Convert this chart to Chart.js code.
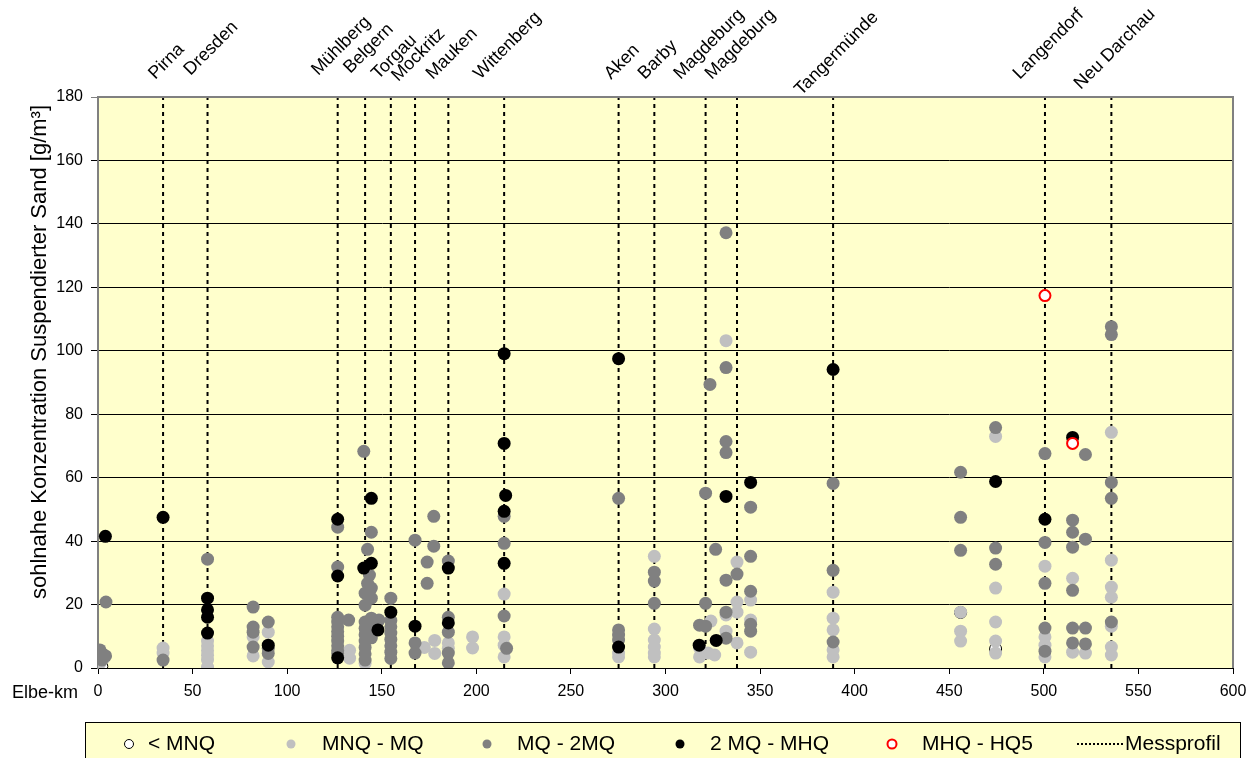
<!DOCTYPE html>
<html>
<head>
<meta charset="utf-8">
<script src="https://cdn.jsdelivr.net/npm/chart.js@4.4.0/dist/chart.umd.min.js"></script>
<style>
  html, body { margin: 0; padding: 0; background: #fff; }
  canvas { display: block; }
</style>
</head>
<body>
<canvas id="sandChart" width="1260" height="758" style="width:1260px;height:758px"></canvas>
<script>
// Measuring profiles (Elbe-km)
const stations = ['Pirna', 'Dresden', 'Mühlberg', 'Belgern', 'Torgau', 'Mockritz', 'Mauken', 'Wittenberg',
                  'Aken', 'Barby', 'Magdeburg', 'Magdeburg', 'Tangermünde', 'Langendorf', 'Neu Darchau'];
const stationKm = [34.4, 57.9, 126.7, 141.2, 154.8, 167.6, 185.2, 214.7, 275.2, 294.1, 321.2, 337.8, 388.6, 500.6, 535.7];
// extra drop of some rotated labels (px)
const labelDrop = [0, -4, -4, -6, 0, 2, 0, 0, 0, 0, 0, 0, 16, 0, 10];

const xTicks = [0, 50, 100, 150, 200, 250, 300, 350, 400, 450, 500, 550, 600];
const yTicks = [0, 20, 40, 60, 80, 100, 120, 140, 160, 180];

// [Elbe-km, concentration g/m³] per discharge class
const belowMNQ = [[2, 0.5], [456, 17.5], [474.5, 6]];

const mnqToMq = [
  [1, 1.5], [3, 3],
  [34.4, 6.3], [34.4, 4.7],
  [57.9, 8.5], [57.9, 7], [57.9, 5.5], [57.9, 4], [57.9, 2.5], [57.9, 0.3],
  [82, 9.8], [82, 3.8], [90, 11.3], [90, 1.9],
  [133, 5.6], [133, 3.1], [144.5, 11], [141.2, 1.5],
  [172.5, 6.5], [178, 8.7], [178, 4.6], [185.2, 7.9], [185.2, 6.2],
  [198, 9.8], [198, 6.3],
  [214.7, 23.3], [214.7, 9.8], [214.7, 7.2], [214.7, 3.5],
  [275.2, 4.7], [275.2, 3.5],
  [294.1, 35.2], [294.1, 12.3], [294.1, 8.8], [294.1, 6.6], [294.1, 4.7], [294.1, 3.5],
  [318, 6.3], [318, 3.5], [324, 14.8], [322.5, 4.7], [326, 4.1],
  [332, 103.2], [332, 16.7], [332, 11.6],
  [337.8, 33.4], [337.8, 20.8], [337.8, 17.6], [337.8, 7.9],
  [345, 21.4], [345, 15.1], [345, 5],
  [388.6, 23.9], [388.6, 15.7], [388.6, 12], [388.6, 5.7], [388.6, 3.5],
  [456, 17.6], [456, 11.6], [456, 8.5],
  [474.5, 73], [474.5, 25.2], [474.5, 14.5], [474.5, 8.5], [474.5, 4.7],
  [500.6, 32.1], [500.6, 9.8], [500.6, 7.2], [500.6, 3.5],
  [515.2, 28.3], [515.2, 5], [522, 4.7],
  [535.7, 74.3], [535.7, 34], [535.7, 25.5], [535.7, 22.3], [535.7, 13.2], [535.7, 6.6], [535.7, 4.1]
];

const mqTo2mq = [
  [1, 5.7], [2.5, 4.4], [4, 3.8], [2, 2.5], [4.2, 20.8],
  [34.4, 2.5], [57.9, 34.3],
  [82, 19.2], [82, 12.9], [82, 11.3], [82, 6.6],
  [90, 14.5], [90, 6.2], [90, 4.6],
  [126.7, 44.4], [126.7, 31.8], [126.7, 16], [126.7, 14.5], [126.7, 13], [126.7, 11.5],
  [126.7, 10], [126.7, 8.5], [126.7, 7], [126.7, 5.5], [126.7, 4.5],
  [132.5, 15.1],
  [140.5, 68.3], [144.5, 42.8], [142.5, 37.4], [143.5, 29.3], [142.5, 26.7], [144.5, 25.2],
  [141.2, 23.6], [144.5, 22], [141.2, 19.8], [144.5, 15.7], [148.5, 15.1], [141.2, 14.5],
  [141.2, 12.5], [141.2, 10.5], [141.2, 8.5], [141.2, 6.5], [141.2, 4.5], [141.2, 2.5],
  [144.5, 13.5], [144.5, 9.5],
  [154.8, 22], [154.8, 15], [154.8, 13], [154.8, 11], [154.8, 9], [154.8, 7], [154.8, 5], [154.8, 3],
  [167.6, 40.3], [167.6, 7.9], [167.6, 4.7],
  [174, 33.4], [174, 26.7], [177.5, 47.8], [177.5, 38.4],
  [185.2, 33.7], [185.2, 16], [185.2, 11.3], [185.2, 4.7], [185.2, 1.6],
  [214.7, 47.8], [214.7, 39.3], [214.7, 16.4], [216, 6.2],
  [275.2, 53.5], [275.2, 12], [275.2, 10.4], [275.2, 8.8],
  [294.1, 30.2], [294.1, 27.4], [294.1, 20.4],
  [321.2, 55.1], [321.2, 20.4], [318, 13.5], [321.2, 13.2],
  [323.5, 89.4], [326.5, 37.4],
  [332, 137.2], [332, 94.7], [332, 71.4], [332, 67.9], [332, 27.7], [332, 17.6], [332, 9.4],
  [337.8, 29.6],
  [345, 50.7], [345, 35.2], [345, 24.2], [345, 13.8], [345, 11.6],
  [388.6, 58.2], [388.6, 30.8], [388.6, 8.2],
  [456, 61.7], [456, 47.5], [456, 37.1],
  [474.5, 75.8], [474.5, 37.8], [474.5, 32.7],
  [500.6, 67.6], [500.6, 39.6], [500.6, 26.7], [500.6, 12.6], [500.6, 5.3],
  [515.2, 46.6], [515.2, 42.8], [515.2, 38.1], [515.2, 24.5], [515.2, 12.6], [515.2, 7.9],
  [522, 67.3], [522, 40.6], [522, 12.6], [522, 7.6],
  [535.7, 107.6], [535.7, 105.1], [535.7, 58.5], [535.7, 53.5], [535.7, 14.5]
];

const mq2ToMhq = [
  [3.9, 41.5], [34.4, 47.5], [57.9, 22], [57.9, 18.3], [57.9, 16], [57.9, 11], [90, 7.2],
  [126.7, 46.9], [126.7, 29], [126.7, 3.2],
  [144.5, 53.5], [144.5, 33], [140.5, 31.5], [148, 12],
  [154.8, 17.6], [167.6, 13.2], [185.2, 31.5], [185.2, 14.2],
  [214.7, 99.1], [214.7, 70.8], [215.5, 54.4], [214.7, 49.4], [214.7, 33],
  [275.2, 97.5], [275.2, 6.6],
  [317.8, 7.2], [326.8, 8.7], [332, 54.1], [345, 58.5],
  [388.6, 94.1], [474.5, 58.8], [500.6, 46.9], [515.2, 72.7]
];

const mhqToHq5 = [[500.6, 117.4], [515.2, 70.8]];

const FONT = '"Liberation Sans", Arial, sans-serif';
const plotBg = '#FFFFCC';

function toPoints(arr) {
  return arr.map(p => ({ x: p[0], y: p[1] }));
}

const datasets = [
  { label: 'MHQ - HQ5', data: toPoints(mhqToHq5), order: 0, pointRadius: 5.5,
    backgroundColor: '#fff', borderColor: '#ff0000', borderWidth: 2 },
  { label: '2 MQ - MHQ', data: toPoints(mq2ToMhq), order: 1, pointRadius: 6.5,
    backgroundColor: '#000', borderWidth: 0 },
  { label: 'MQ - 2MQ', data: toPoints(mqTo2mq), order: 2, pointRadius: 6.5,
    backgroundColor: '#808080', borderWidth: 0 },
  { label: 'MNQ - MQ', data: toPoints(mnqToMq), order: 3, pointRadius: 6.5,
    backgroundColor: '#c0c0c0', borderWidth: 0 },
  { label: '< MNQ', data: toPoints(belowMNQ), order: 4, pointRadius: 6,
    backgroundColor: '#fff', borderColor: '#000', borderWidth: 1 }
];

// Messprofil lines
stationKm.forEach(km => {
  datasets.push({
    label: 'Messprofil', data: [{ x: km, y: 0 }, { x: km, y: 180 }],
    showLine: true, pointRadius: 0, borderColor: '#000', borderWidth: 2,
    borderDash: [4, 4], order: 10
  });
});

// yellow plot area + frame
const plotArea = {
  id: 'plotArea',
  beforeDraw(chart) {
    const { ctx, chartArea: a } = chart;
    ctx.save();
    ctx.fillStyle = plotBg;
    ctx.fillRect(a.left, a.top, a.right - a.left, a.bottom - a.top);
    ctx.restore();
  },
  afterDatasetsDraw(chart) {
    const { ctx, chartArea: a } = chart;
    ctx.save();
    ctx.strokeStyle = '#808080';
    ctx.lineWidth = 2;
    ctx.beginPath();
    ctx.moveTo(a.left, a.top);
    ctx.lineTo(a.right, a.top);
    ctx.lineTo(a.right, a.bottom);
    ctx.stroke();
    ctx.restore();
  }
};

// station names, axis title, legend box
const decorations = {
  id: 'decorations',
  afterDraw(chart) {
    const { ctx } = chart;
    const xs = chart.scales.x;
    ctx.save();
    ctx.fillStyle = '#000';
    ctx.font = '18px ' + FONT;
    ctx.textAlign = 'left';
    ctx.textBaseline = 'alphabetic';
    stations.forEach((name, i) => {
      const px = xs.getPixelForValue(stationKm[i]);
      const w = ctx.measureText(name).width;
      const sx = px - w * 0.3535 + 7;
      const sy = 80 + labelDrop[i];
      ctx.save();
      ctx.translate(sx, sy);
      ctx.rotate(-Math.PI / 4);
      ctx.fillText(name, 0, 0);
      ctx.restore();
    });

    // y axis title
    ctx.save();
    ctx.font = '22px ' + FONT;
    ctx.translate(40, 352);
    ctx.rotate(-Math.PI / 2);
    ctx.textAlign = 'center';
    ctx.textBaseline = 'middle';
    ctx.fillText('sohlnahe Konzentration Suspendierter Sand [g/m³]', 0, 0);
    ctx.restore();

    // x axis caption
    ctx.font = '18px ' + FONT;
    ctx.textBaseline = 'middle';
    ctx.fillText('Elbe-km', 12, 693);

    // legend
    ctx.fillStyle = plotBg;
    ctx.fillRect(85.5, 722.5, 1155, 40);
    ctx.strokeStyle = '#000';
    ctx.lineWidth = 1;
    ctx.strokeRect(85.5, 722.5, 1155, 40);
    const ly = 744;
    const items = [
      { mx: 129, tx: 148, fill: '#fff', stroke: '#000', lw: 1 },
      { mx: 291, tx: 322, fill: '#c0c0c0' },
      { mx: 487, tx: 517, fill: '#808080' },
      { mx: 680, tx: 710, fill: '#000' },
      { mx: 892, tx: 922, fill: '#fff', stroke: '#ff0000', lw: 2 }
    ];
    ctx.font = '21px ' + FONT;
    items.forEach((it, i) => {
      ctx.beginPath();
      ctx.arc(it.mx, ly, 4.5, 0, Math.PI * 2);
      ctx.fillStyle = it.fill;
      ctx.fill();
      if (it.stroke) {
        ctx.strokeStyle = it.stroke;
        ctx.lineWidth = it.lw;
        ctx.stroke();
      }
      ctx.fillStyle = '#000';
      ctx.fillText(datasets[4 - i].label, it.tx, ly);
    });
    ctx.beginPath();
    ctx.setLineDash([2, 2]);
    ctx.strokeStyle = '#000';
    ctx.lineWidth = 2;
    ctx.moveTo(1077, ly);
    ctx.lineTo(1123, ly);
    ctx.stroke();
    ctx.setLineDash([]);
    ctx.fillText('Messprofil', 1125, ly);
    ctx.restore();
  }
};

new Chart(document.getElementById('sandChart'), {
  type: 'scatter',
  data: { datasets: datasets },
  options: {
    responsive: false,
    animation: false,
    layout: { padding: { top: 97, right: 27, left: 0, bottom: 0 } },
    plugins: { legend: { display: false }, tooltip: { enabled: false } },
    scales: {
      x: {
        type: 'linear', min: 0, max: 600,
        afterBuildTicks: s => { s.ticks = xTicks.map(v => ({ value: v })); },
        afterFit: s => { s.height = 90; },
        ticks: { color: '#000', font: { family: FONT, size: 16 }, padding: 8, maxRotation: 0 },
        grid: { drawOnChartArea: false, drawTicks: true, tickLength: 6, color: '#000' },
        border: { display: true, color: '#000', width: 1 }
      },
      y: {
        min: 0, max: 180,
        afterBuildTicks: s => { s.ticks = yTicks.map(v => ({ value: v })); },
        afterFit: s => { s.width = 98; },
        ticks: { color: '#000', font: { family: FONT, size: 16 }, padding: 8 },
        grid: {
          color: c => (c.tick && c.tick.value === 180 ? '#808080' : '#000'),
          lineWidth: 1, tickLength: 7
        },
        border: { display: true, color: '#808080', width: 2 }
      }
    }
  },
  plugins: [plotArea, decorations]
});
</script>
</body>
</html>
